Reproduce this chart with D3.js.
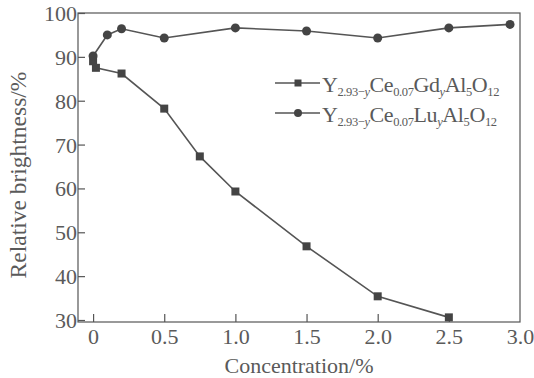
<!DOCTYPE html>
<html>
<head>
<meta charset="utf-8">
<script src="https://cdn.jsdelivr.net/npm/d3@7"></script>
<style>
  body { margin: 0; background: #fff; }
  svg text { font-family: "Liberation Serif", "DejaVu Serif", serif; }
</style>
</head>
<body>
<div id="chart"></div>
<script>
// data
const gdConc = [0, 0.02, 0.2, 0.5, 0.75, 1.0, 1.5, 2.0, 2.5];
const gdBright = [89, 87.5, 86.2, 78.2, 67.3, 59.3, 46.8, 35.4, 30.6];
const luConc = [0, 0.1, 0.2, 0.5, 1.0, 1.5, 2.0, 2.5, 2.93];
const luBright = [90.2, 95, 96.4, 94.3, 96.6, 95.9, 94.3, 96.6, 97.4];
const xTicks = [0, 0.5, 1.0, 1.5, 2.0, 2.5, 3.0];
const yTicks = [30, 40, 50, 60, 70, 80, 90, 100];

const W = 534, H = 378;
const ink = "#555";
const textInk = "#5a5a5a";

const svg = d3.select("#chart").append("svg")
  .attr("width", W)
  .attr("height", H);

const x = d3.scaleLinear().domain([-0.106, 3.0]).range([78, 520]);
const y = d3.scaleLinear().domain([30, 100]).range([320, 13]);

// frame
svg.append("rect")
  .attr("x", 78).attr("y", 13)
  .attr("width", 520 - 78).attr("height", 322 - 13)
  .attr("fill", "none").attr("stroke", ink).attr("stroke-width", 1.2);

// x axis, ticks pointing inward
const xAxis = svg.append("g")
  .attr("transform", "translate(0,322)")
  .call(d3.axisBottom(x).tickValues(xTicks).tickSizeInner(-8).tickSizeOuter(0)
    .tickFormat(d => d === 0 ? "0" : d3.format(".1f")(d)));
xAxis.attr("font-family", null).attr("font-size", null);
xAxis.select(".domain").remove();
xAxis.selectAll("line").attr("stroke", ink).attr("stroke-width", 1.2);
xAxis.selectAll(".tick").filter(d => d === 3.0).select("line").remove();
xAxis.selectAll("text").attr("fill", textInk).attr("font-size", 22)
  .attr("y", 22).attr("dy", null);

// y axis, ticks pointing inward
const yAxis = svg.append("g")
  .attr("transform", "translate(78,0)")
  .call(d3.axisLeft(y).tickValues(yTicks).tickSizeInner(-7).tickSizeOuter(0));
yAxis.attr("font-family", null).attr("font-size", null);
yAxis.select(".domain").remove();
yAxis.selectAll("line").attr("stroke", ink).attr("stroke-width", 1.2);
yAxis.selectAll("text").attr("fill", textInk).attr("font-size", 22).attr("x", -1)
  .attr("dy", "0.34em");

// axis titles
svg.append("text")
  .attr("x", 299).attr("y", 373)
  .attr("text-anchor", "middle")
  .attr("fill", textInk).attr("font-size", 22)
  .text("Concentration/%");

svg.append("text")
  .attr("transform", "translate(26,175) rotate(-90)")
  .attr("text-anchor", "middle")
  .attr("fill", textInk).attr("font-size", 23.5)
  .text("Relative brightness/%");

const line = d3.line().x(d => x(d[0])).y(d => y(d[1]));
const gd = gdConc.map((c, i) => [c, gdBright[i]]);
const lu = luConc.map((c, i) => [c, luBright[i]]);

svg.append("path").datum(gd)
  .attr("d", line).attr("fill", "none").attr("stroke", ink).attr("stroke-width", 1.6);
svg.append("path").datum(lu)
  .attr("d", line).attr("fill", "none").attr("stroke", ink).attr("stroke-width", 1.6);

svg.append("g").selectAll("rect").data(gd).enter().append("rect")
  .attr("x", d => x(d[0]) - 4).attr("y", d => y(d[1]) - 4)
  .attr("width", 8).attr("height", 8)
  .attr("fill", "#444");

svg.append("g").selectAll("circle").data(lu).enter().append("circle")
  .attr("cx", d => x(d[0])).attr("cy", d => y(d[1]))
  .attr("r", 4.5)
  .attr("fill", "#444");

// legend
const legend = svg.append("g");
const rows = [
  { marker: "square", parts: [["Y", ""], ["2.93−", "sub"], ["y", "subi"], ["Ce", ""], ["0.07", "sub"], ["Gd", ""], ["y", "subi"], ["Al", ""], ["5", "sub"], ["O", ""], ["12", "sub"]] },
  { marker: "circle", parts: [["Y", ""], ["2.93−", "sub"], ["y", "subi"], ["Ce", ""], ["0.07", "sub"], ["Lu", ""], ["y", "subi"], ["Al", ""], ["5", "sub"], ["O", ""], ["12", "sub"]] }
];
rows.forEach((r, i) => {
  const cy = 83 + i * 30;
  legend.append("line")
    .attr("x1", 275).attr("x2", 320).attr("y1", cy).attr("y2", cy)
    .attr("stroke", ink).attr("stroke-width", 1.6);
  if (r.marker === "square") {
    legend.append("rect").attr("x", 294.5).attr("y", cy - 3.5).attr("width", 7).attr("height", 7).attr("fill", "#444");
  } else {
    legend.append("circle").attr("cx", 298).attr("cy", cy).attr("r", 4).attr("fill", "#444");
  }
  const t = legend.append("text")
    .attr("x", 322).attr("y", cy + 9)
    .attr("fill", textInk).attr("font-size", 22)
    .attr("letter-spacing", -0.4);
  r.parts.forEach(p => {
    const ts = t.append("tspan").text(p[0]);
    if (p[1] === "sub" || p[1] === "subi") {
      ts.attr("font-size", 12.5).attr("baseline-shift", "-30%");
      if (p[1] === "subi") ts.attr("font-style", "italic");
    }
  });
});
</script>
</body>
</html>
